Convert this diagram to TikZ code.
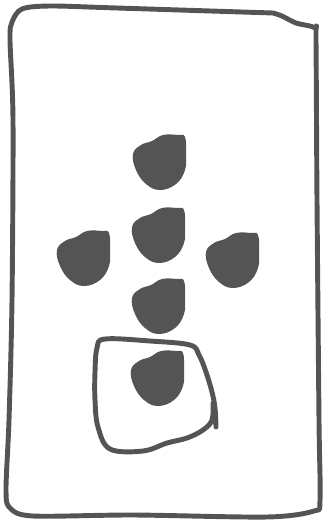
\documentclass[tikz,border=0pt]{standalone}
\usepackage{xcolor}
\usepackage{tikz}
\usetikzlibrary{calc}
\definecolor{inkgray}{HTML}{545454}

\begin{document}
\begin{tikzpicture}[
  x=0.03cm, y=-0.03cm,
  stroke/.style={draw=inkgray,line width=4.2pt,line cap=round,line join=round},
  blob/.style={fill=inkgray,draw=none}]
  \useasboundingbox (0,0) rectangle (324,521);
  % outer case
  \draw[stroke] plot[smooth,tension=0.5] coordinates {
    (273,13) (117,8) (50,6) (22,9) (12,22) (10,40) (13,120) (12,300) (9,420) (6,490) (10,508) (33,516)
    (133,515) (267,517) (314,511) (320,500) (319,420) (317,200) (316,40) (315,28) (296,23) (282,16) (273,13)};
  % buttons
  \foreach \name/\cx/\cy in {up/160/162, mid/159/235, left/84/258, right/233/260, down/159/306, ok/158/378} {
    \coordinate (\name) at (\cx,\cy);
    \fill[blob,shift={(\name)}] plot[smooth cycle,tension=0.7] coordinates {
      (-27,-8) (-19,-17) (-8,-21) (3,-27) (18,-27) (25,-25) (26,-8) (25,8) (16,22) (0,28) (-14,22) (-24,8)};
  }
  % loop round the last button
  \draw[stroke] plot[smooth,tension=0.6] coordinates {
    (216,427) (215,408) (212,392) (206,372) (199,355) (190,345) (150,341) (105,339) (97,348)
    (95,372) (95,400) (98,427) (110,449) (143,451) (167,443) (187,438) (203,430) (212,420) (213,403)};
\end{tikzpicture}
\end{document}
